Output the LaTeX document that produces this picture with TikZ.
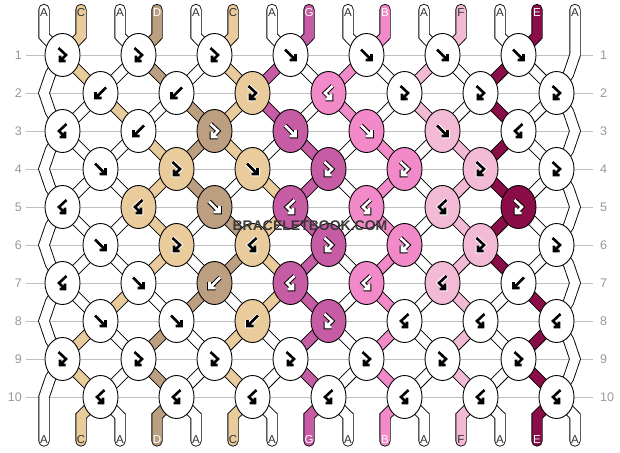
\documentclass[tikz,border=0pt]{standalone}
\usepackage{fontspec}
\setmainfont{Liberation Sans}
\usetikzlibrary{shapes.geometric}
\pgfdeclarelayer{back}
\pgfsetlayers{back,main}
\definecolor{cA}{HTML}{FFFFFF}
\definecolor{cC}{HTML}{EACB9C}
\definecolor{cD}{HTML}{BC9F81}
\definecolor{cG}{HTML}{C65CA4}
\definecolor{cB}{HTML}{F28AC9}
\definecolor{cF}{HTML}{F3BAD5}
\definecolor{cE}{HTML}{8B0D47}
\colorlet{amA}{black}\colorlet{aoA}{white}
\colorlet{amC}{black}\colorlet{aoC}{white}
\colorlet{amF}{black}\colorlet{aoF}{white}
\colorlet{amD}{white}\colorlet{aoD}{black}
\colorlet{amG}{white}\colorlet{aoG}{black}
\colorlet{amB}{white}\colorlet{aoB}{black}
\colorlet{amE}{white}\colorlet{aoE}{black}
\definecolor{lA}{HTML}{333333}
\colorlet{lC}{lA}\colorlet{lF}{lA}
\colorlet{lD}{white}\colorlet{lG}{white}\colorlet{lB}{white}\colorlet{lE}{white}
\definecolor{gridgray}{HTML}{BFBFBF}
\definecolor{labgray}{HTML}{999999}
\definecolor{wmgray}{HTML}{3A3A3A}
\begin{document}
\begin{tikzpicture}[x=1pt,y=-1pt,
  knot/.style={ellipse, draw=black, line width=0.9, minimum width=35, minimum height=43, inner sep=0},
  strand/.style={draw=black, line width=0.9, double distance=9.5, line cap=round, line join=miter},
  gridline/.style={draw=gridgray, line width=1},
  rowlab/.style={text=labgray, font=\fontsize{12.5}{12.5}\selectfont, inner sep=0},
  endlab/.style={font=\fontsize{11.5}{11.5}\selectfont, inner sep=0},
  arrowout/.style={line width=4.6, line cap=square, line join=miter},
  arrowin/.style={line width=2.6, line cap=butt, line join=miter},
  pics/arF/.style={code={\draw[pic actions] (-5.5,-5.5) -- (5,5) (5,-1) -- (5,5) -- (-1,5);}},
  pics/arB/.style={code={\draw[pic actions] (5.5,-5.5) -- (-5,5) (-5,-1) -- (-5,5) -- (1,5);}},
  pics/arFB/.style={code={\draw[pic actions] (-4,-7) -- (3.5,0) -- (-2.5,6) (-2.5,0.5) -- (-2.5,6) -- (3,6);}},
  pics/arBF/.style={code={\draw[pic actions] (4,-7) -- (-3.5,0) -- (2.5,6) (2.5,0.5) -- (2.5,6) -- (-3,6);}}
]
\useasboundingbox (0,0) rectangle (620,452);

% knots
\foreach \r/\ks in {
 1/{A/FB,A/FB,A/FB,A/F,A/F,A/F,A/F},
 2/{A/B,A/B,C/FB,B/BF,A/FB,A/FB,A/FB},
 3/{A/BF,A/B,D/FB,G/F,B/F,F/F,A/BF},
 4/{A/F,C/FB,C/F,G/FB,B/FB,F/FB,A/FB},
 5/{A/BF,C/BF,D/F,G/BF,B/BF,F/BF,E/FB},
 6/{A/F,C/FB,C/BF,G/FB,B/FB,F/FB,A/FB},
 7/{A/BF,A/F,D/B,G/BF,B/BF,F/BF,A/B},
 8/{A/F,A/F,C/B,G/FB,A/BF,A/BF,A/BF},
 9/{A/FB,A/FB,A/FB,A/FB,A/FB,A/FB,A/FB},
 10/{A/BF,A/BF,A/BF,A/BF,A/BF,A/BF,A/BF}}
{
  \pgfmathsetmacro\y{55+38*(\r-1)}
  \pgfmathsetmacro\xo{mod(\r,2)==1 ? 62.5 : 100.5}
  \foreach \col/\typ [count=\c] in \ks {
    \pgfmathsetmacro\x{\xo+76*(\c-1)}
    \node[knot, fill=c\col] (k-\r-\c) at (\x,\y) {};
    \pic[draw=ao\col, arrowout] at (k-\r-\c) {ar\typ};
    \pic[draw=am\col, arrowin] at (k-\r-\c) {ar\typ};
  }
  \node[rowlab, anchor=east] (ll-\r) at (22,\y) {\r};
  \node[rowlab, anchor=west] (rl-\r) at (600,\y) {\r};
}

% strand ends and labels
\foreach \xx/\col [count=\p] in {44/A,81/C,120/A,157/D,196/A,233/C,272/A,309/G,348/A,385/B,424/A,461/F,500/A,537/E,575/A} {
  \coordinate (t-\p) at (\xx,9.5);
  \coordinate (tb-\p) at (\xx,36);
  \coordinate (bb-\p) at (\xx,416);
  \coordinate (b-\p) at (\xx,441);
  \node[endlab, text=l\col] (tl-\p) at (\xx,12.5) {\col};
  \node[endlab, text=l\col] (bl-\p) at (\xx,440) {\col};
}

% edge bend points
\foreach \r in {2,4,6,8,10} {
  \pgfmathsetmacro\y{55+38*(\r-1)}
  \coordinate (eL-\r) at (44,\y);
  \coordinate (Lu-\r) at (50.5,\y-19);
  \coordinate (Ld-\r) at (50.5,\y+19);
}
\foreach \r in {1,3,5,7,9} {
  \pgfmathsetmacro\y{55+38*(\r-1)}
  \coordinate (eR-\r) at (575,\y);
  \coordinate (Ru-\r) at (568.5,\y-19);
  \coordinate (Rd-\r) at (568.5,\y+19);
}

\node[font=\bfseries\fontsize{14}{14}\selectfont, text=wmgray, inner sep=0] (wm) at (310,226) {BRACELETBOOK.COM};

\begin{pgfonlayer}{back}
  \fill[white] (0,0) rectangle (620,452);
  \foreach \r in {1,...,10} {
    \draw[gridline] ([xshift=4]ll-\r.east) -- ([xshift=-7]rl-\r.west);
  }
  % edge strands
  \draw[strand, double=cA] (t-1) -- (tb-1) -- (k-1-1.center) -- (Lu-2) -- (eL-2) -- (Ld-2) -- (k-3-1.center)
     -- (Lu-4) -- (eL-4) -- (Ld-4) -- (k-5-1.center) -- (Lu-6) -- (eL-6) -- (Ld-6) -- (k-7-1.center)
     -- (Lu-8) -- (eL-8) -- (Ld-8) -- (k-9-1.center) -- (Lu-10) -- (eL-10) -- (b-1);
  \draw[strand, double=cA] (t-15) -- (eR-1) -- (Rd-1) -- (k-2-7.center) -- (Ru-3) -- (eR-3) -- (Rd-3) -- (k-4-7.center)
     -- (Ru-5) -- (eR-5) -- (Rd-5) -- (k-6-7.center) -- (Ru-7) -- (eR-7) -- (Rd-7) -- (k-8-7.center)
     -- (Ru-9) -- (eR-9) -- (Rd-9) -- (k-10-7.center) -- (bb-15) -- (b-15);
  % top and bottom strands
  \foreach \col [count=\p] in {A,C,A,D,A,C,A,G,A,B,A,F,A,E,A} {
    \ifnum\p>1 \ifnum\p<15
      \pgfmathtruncatemacro\ct{(\p+1)/2}
      \pgfmathtruncatemacro\cbt{\p/2}
      \draw[strand, double=c\col] (t-\p) -- (tb-\p) -- (k-1-\ct.center);
      \draw[strand, double=c\col] (k-10-\cbt.center) -- (bb-\p) -- (b-\p);
    \fi\fi
  }
  % inner strand segments
  \foreach \r/\cs in {
    1/{C,A,D,A,C,G,A,B,A,F,A,E,A},
    2/{A,C,A,D,C,G,A,B,A,F,A,E,A},
    3/{A,A,C,D,C,A,G,A,B,A,F,E,A},
    4/{A,A,C,D,A,C,G,A,B,A,F,E,A},
    5/{A,A,C,A,D,C,G,A,B,A,F,E,A},
    6/{A,A,C,A,D,C,G,A,B,A,F,E,A},
    7/{A,C,A,D,A,C,G,A,B,A,F,A,E},
    8/{C,A,D,A,C,A,G,A,B,A,F,A,E},
    9/{C,A,D,A,C,A,G,A,B,A,F,A,E}} {
    \pgfmathtruncatemacro\rn{\r+1}
    \foreach \col [count=\i] in \cs {
      \pgfmathtruncatemacro\p{\i+1}
      \pgfmathtruncatemacro\ca{mod(\r,2)==1 ? (\p+1)/2 : \p/2}
      \pgfmathtruncatemacro\cb{mod(\rn,2)==1 ? (\p+1)/2 : \p/2}
      \draw[strand, double=c\col] (k-\r-\ca.center) -- (k-\rn-\cb.center);
    }
  }
\end{pgfonlayer}
\end{tikzpicture}
\end{document}
